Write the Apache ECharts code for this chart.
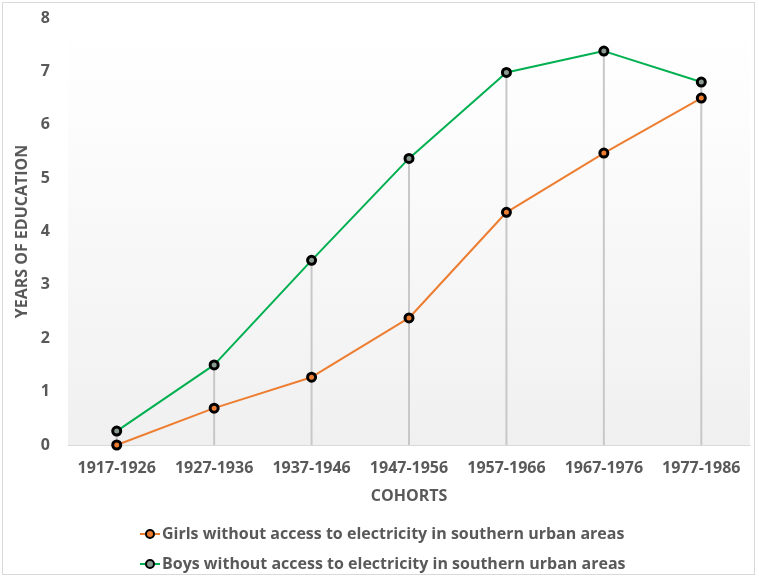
<!DOCTYPE html>
<html>
<head>
<meta charset="utf-8">
<script src="https://cdn.jsdelivr.net/npm/echarts@6/dist/echarts.min.js"></script>
<style>
html,body{margin:0;padding:0;background:#fff;}
#frame{position:absolute;left:2px;top:2px;width:753px;height:573px;border:1px solid #d9d9d9;box-sizing:border-box;}
#c{position:absolute;left:0;top:0;width:759px;height:579px;}
</style>
</head>
<body>
<div id="frame"></div>
<div id="c"></div>
<script>
var categories = ['1917-1926','1927-1936','1937-1946','1947-1956','1957-1966','1967-1976','1977-1986'];
var girls = [0.0, 0.69, 1.27, 2.38, 4.36, 5.47, 6.50];
var boys  = [0.26, 1.50, 3.46, 5.37, 6.98, 7.38, 6.80];
var girlsName = 'Girls without access to electricity in southern urban areas';
var boysName = 'Boys without access to electricity in southern urban areas';
var yTicks = [0, 1, 2, 3, 4, 5, 6, 7, 8];

var dropData = categories.map(function(c, i){ return Math.max(girls[i], boys[i]); });
var font = '"Open Sans", "Noto Sans", sans-serif';
var txt = '#595959';

var chart = echarts.init(document.getElementById('c'), null, {renderer:'canvas'});
chart.setOption({
  animation: false,
  backgroundColor: 'transparent',
  grid: {
    left: 68, right: 9, top: 18, bottom: 134,
    show: true, borderWidth: 0,
    backgroundColor: new echarts.graphic.LinearGradient(0, 0, 0, 1, [
      {offset: 0, color: '#ffffff'},
      {offset: 0.2, color: '#fdfdfd'},
      {offset: 1, color: '#f0f0f0'}
    ])
  },
  legend: {
    orient: 'vertical',
    left: 134, top: 521,
    itemGap: 14,
    itemWidth: 20, itemHeight: 10,
    data: [girlsName, boysName],
    textStyle: {color: txt, fontFamily: font, fontSize: 16, fontWeight: 'bold', padding: [0,0,0,-3]}
  },
  xAxis: {
    type: 'category',
    data: categories,
    boundaryGap: true,
    name: 'COHORTS',
    nameLocation: 'middle',
    nameGap: 43,
    nameTextStyle: {color: txt, fontFamily: font, fontSize: 16, fontWeight: 'bold'},
    axisLine: {show: true, lineStyle: {color: '#d9d9d9', width: 1}},
    axisTick: {show: false},
    axisLabel: {interval: 0, color: txt, fontFamily: font, fontSize: 16, fontWeight: 'bold', margin: 15},
    splitLine: {show: false}
  },
  yAxis: {
    type: 'value',
    min: yTicks[0], max: yTicks[yTicks.length-1], interval: 1,
    name: 'YEARS OF EDUCATION',
    nameLocation: 'middle',
    nameGap: 30,
    nameTextStyle: {color: txt, fontFamily: font, fontSize: 16, fontWeight: 'bold'},
    axisLine: {show: false},
    axisTick: {show: false},
    splitLine: {show: false},
    axisLabel: {color: txt, fontFamily: font, fontSize: 16, fontWeight: 'bold', margin: 18}
  },
  series: [
    {
      type: 'bar',
      name: 'drop',
      data: dropData,
      barWidth: 2,
      barGap: '-100%',
      itemStyle: {color: '#c8c8c8'},
      silent: true,
      z: 1
    },
    {
      type: 'line',
      name: girlsName,
      data: girls,
      symbol: 'circle',
      symbolSize: 8,
      lineStyle: {color: '#ed7d31', width: 2},
      itemStyle: {color: '#ed7d31', borderColor: '#000', borderWidth: 3},
      z: 3
    },
    {
      type: 'line',
      name: boysName,
      data: boys,
      symbol: 'circle',
      symbolSize: 8,
      lineStyle: {color: '#00b050', width: 2},
      itemStyle: {color: '#8a9a90', borderColor: '#000', borderWidth: 3},
      z: 3
    }
  ]
});
</script>
</body>
</html>
